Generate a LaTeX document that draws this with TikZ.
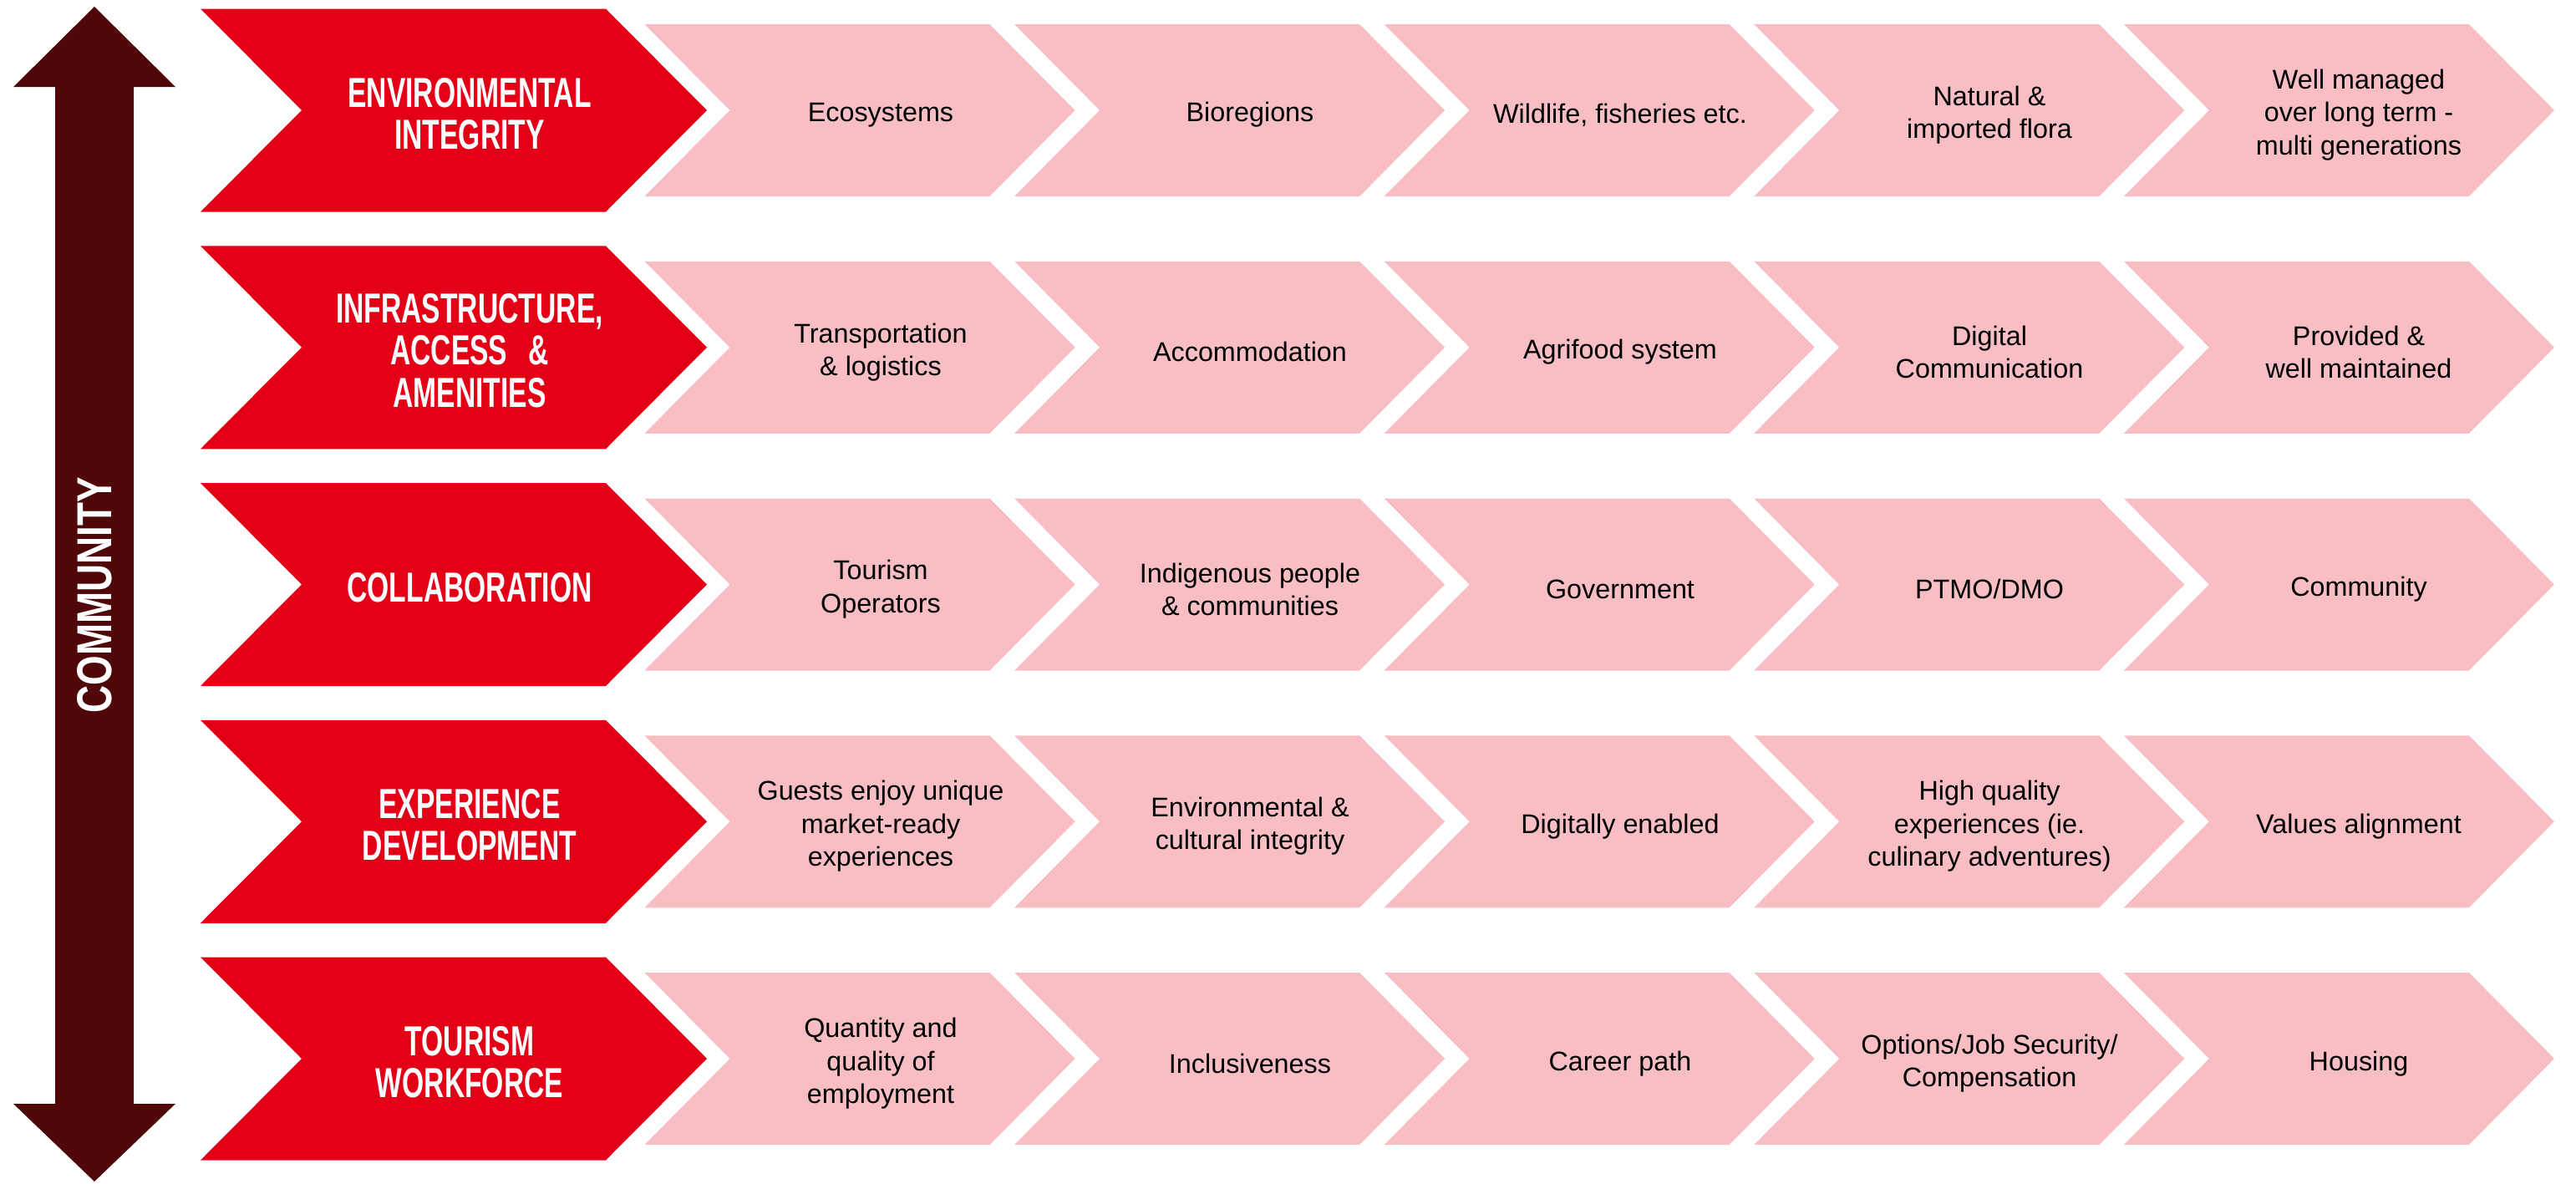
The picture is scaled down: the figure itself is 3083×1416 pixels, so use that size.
\documentclass[tikz,border=0pt]{standalone}
\usepackage{fontspec}
\setmainfont{Liberation Sans}
\newfontfamily\titlefont[FakeStretch=0.67]{Liberation Sans}
\newfontfamily\sidefont[FakeStretch=0.78]{Liberation Sans}
\definecolor{headred}{RGB}{227,0,22}
\definecolor{cellpink}{RGB}{248,190,196}
\definecolor{arrowbrown}{RGB}{79,7,7}

\begin{document}
\begin{tikzpicture}[
    x=0.1mm, y=-0.1mm,
    headtext/.style={text=white, align=center, inner sep=0pt, yshift=-1.1pt,
        font=\titlefont\bfseries\fontsize{14.3}{14.3}\selectfont},
    celltext/.style={text=black, align=center, inner sep=0pt, yshift=-1.6pt,
        font=\fontsize{9.2}{11.2}\selectfont},
    sidetext/.style={text=white, rotate=90, inner sep=0pt,
        font=\sidefont\bfseries\fontsize{16.7}{16.7}\selectfont}
]
    \useasboundingbox (0,0) rectangle (3083,1416);

    % double arrow on the left
    \fill[arrowbrown] (113,8) -- (210,104) -- (160,104) -- (160,1321) -- (210,1321)
        -- (113,1414) -- (16,1321) -- (66,1321) -- (66,104) -- (16,104) -- cycle;
    \node[sidetext] (community) at (113,712) {COMMUNITY};

    % red heads and pink chevrons
    \foreach \r in {0,...,4} {
        \fill[headred] (240,{132+283.75*\r-121.5}) -- ++(485,0) -- ++(121,121.5)
            -- ++(-121,121.5) -- ++(-485,0) -- ++(121,-121.5) -- cycle;
        \foreach \c in {0,...,4}
            \fill[cellpink] ({771.5+442.6*\c},{132+283.75*\r-103}) -- ++(413,0) -- ++(102,103)
                -- ++(-102,103) -- ++(-413,0) -- ++(102,-103) -- cycle;
    }

    % row 1
    \node[headtext] (h0) at (562,132) {ENVIRONMENTAL\\INTEGRITY};
    \node[celltext] (c00) at (1054,132) {Ecosystems};
    \node[celltext] (c01) at (1496,132) {Bioregions};
    \node[celltext] (c02) at (1939,132) {Wildlife, fisheries etc.};
    \node[celltext] (c03) at (2381,132) {Natural \&\\imported flora};
    \node[celltext] (c04) at (2823,132) {Well managed\\over long term -\\multi generations};

    % row 2
    \node[headtext] (h1) at (562,415.75) {INFRASTRUCTURE,\\ACCESS\enspace\&\\AMENITIES};
    \node[celltext] (c10) at (1054,415.75) {Transportation\\\& logistics};
    \node[celltext] (c11) at (1496,415.75) {Accommodation};
    \node[celltext] (c12) at (1939,415.75) {Agrifood system};
    \node[celltext] (c13) at (2381,415.75) {Digital\\Communication};
    \node[celltext] (c14) at (2823,415.75) {Provided \&\\well maintained};

    % row 3
    \node[headtext] (h2) at (562,699.5) {COLLABORATION};
    \node[celltext] (c20) at (1054,699.5) {Tourism\\Operators};
    \node[celltext] (c21) at (1496,699.5) {Indigenous people\\\& communities};
    \node[celltext] (c22) at (1939,699.5) {Government};
    \node[celltext] (c23) at (2381,699.5) {PTMO/DMO};
    \node[celltext] (c24) at (2823,699.5) {Community};

    % row 4
    \node[headtext] (h3) at (562,983.25) {EXPERIENCE\\DEVELOPMENT};
    \node[celltext] (c30) at (1054,983.25) {Guests enjoy unique\\market-ready\\experiences};
    \node[celltext] (c31) at (1496,983.25) {Environmental \&\\cultural integrity};
    \node[celltext] (c32) at (1939,983.25) {Digitally enabled};
    \node[celltext] (c33) at (2381,983.25) {High quality\\experiences (ie.\\culinary adventures)};
    \node[celltext] (c34) at (2823,983.25) {Values alignment};

    % row 5
    \node[headtext] (h4) at (562,1267) {TOURISM\\WORKFORCE};
    \node[celltext] (c40) at (1054,1267) {Quantity and\\quality of\\employment};
    \node[celltext] (c41) at (1496,1267) {Inclusiveness};
    \node[celltext] (c42) at (1939,1267) {Career path};
    \node[celltext] (c43) at (2381,1267) {Options/Job Security/\\Compensation};
    \node[celltext] (c44) at (2823,1267) {Housing};
\end{tikzpicture}
\end{document}
